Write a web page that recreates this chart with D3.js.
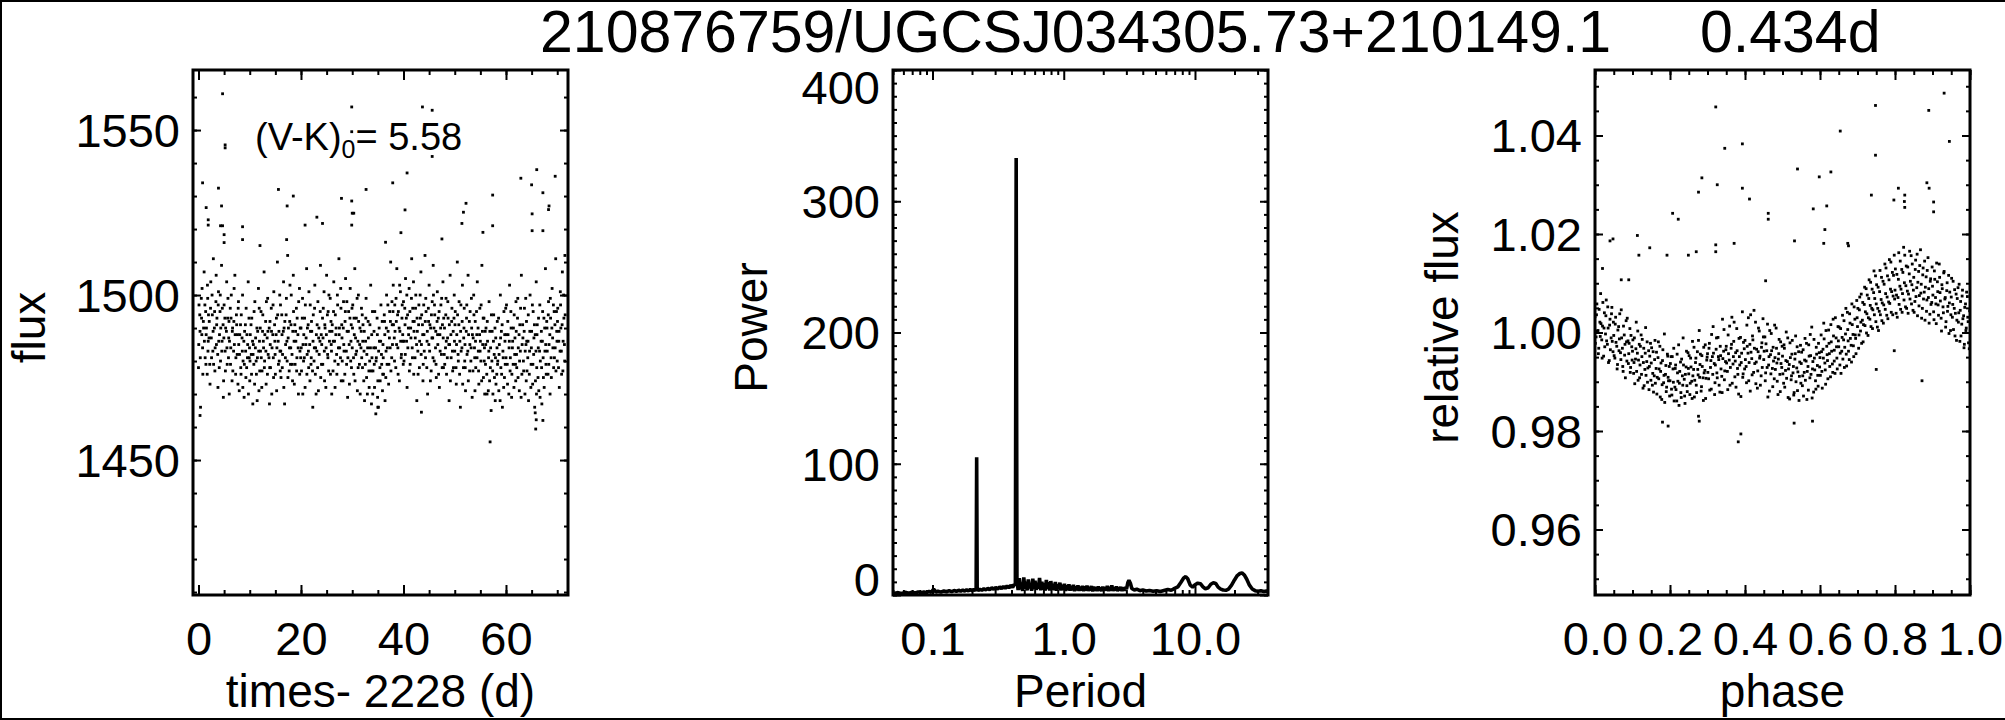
<!DOCTYPE html>
<html><head><meta charset="utf-8">
<script src="https://cdn.jsdelivr.net/npm/d3@7"></script>
<style>
html,body{margin:0;padding:0;background:#fff;}
svg{display:block;}
text{font-family:"Liberation Sans",Arial,Helvetica,sans-serif;fill:#000;}
</style></head><body>
<svg id="chart" width="2005" height="720"></svg>
<script>
// ---------------- DATA ----------------
const titleMain = "210876759/UGCSJ034305.73+210149.1";
const titlePeriod = "0.434d";
const colorIndexLabel = "(V-K)";
const colorIndexSub = "0";
const colorIndexValue = "= 5.58";

// light curve: [time - 2228 (d), flux]
const lcPoints = [
[0.0,1478],[0.1,1497],[0.3,1489],[0.4,1466],[0.6,1493],[0.7,1502],[0.8,1484],[1.0,1490],[1.1,1507],[1.3,1481],[1.4,1495],[1.5,1488],[1.7,1476],[1.8,1499],[1.9,1486],
[2.1,1492],[2.2,1479],[2.4,1504],[2.5,1487],[2.7,1494],[2.8,1483],[2.9,1511],[3.1,1490],[3.2,1477],[3.4,1498],[3.5,1485],[3.6,1493],[3.8,1472],[3.9,1501],
[4.1,1488],[4.2,1495],[4.3,1480],[4.5,1509],[4.6,1486],[4.8,1491],[4.9,1474],[5.0,1497],[5.2,1483],[5.3,1490],[5.5,1504],[5.6,1479],[5.7,1493],[5.9,1487],
[6.0,1470],[6.2,1496],[6.3,1484],[6.4,1500],[6.6,1489],[6.7,1477],[6.9,1492],[7.0,1485],[7.1,1506],[7.3,1481],[7.4,1494],[7.6,1488],[7.7,1473],[7.8,1498],
[8.0,1482],[8.2,1491],[8.3,1476],[8.5,1487],[8.6,1500],[8.7,1480],[8.9,1469],[9.0,1489],[9.2,1483],[9.3,1496],[9.4,1478],[9.6,1485],[9.7,1504],[9.9,1481],
[10.0,1474],[10.1,1488],[10.3,1482],[10.4,1493],[10.6,1467],[10.7,1485],[10.8,1479],[11.0,1498],[11.1,1484],[11.3,1476],[11.4,1490],[11.5,1481],[11.7,1502],[11.8,1471],[11.9,1486],
[12.1,1483],[12.2,1495],[12.4,1477],[12.5,1489],[12.7,1484],[12.8,1507],[12.9,1480],[13.1,1492],[13.2,1473],[13.4,1487],[13.5,1499],[13.6,1482],[13.8,1490],[13.9,1478],
[14.0,1485],[14.2,1496],[14.3,1470],[14.5,1488],[14.6,1481],[14.7,1501],[14.9,1486],[15.0,1476],[15.2,1493],[15.3,1484],[15.4,1510],[15.6,1479],[15.7,1489],[15.9,1483],
[16.0,1497],[16.1,1475],[16.3,1488],[16.4,1482],[16.6,1504],[16.7,1490],[16.8,1467],[17.0,1485],[17.1,1494],[17.3,1480],[17.4,1512],[17.5,1487],[17.7,1477],[17.8,1492],
[18.0,1484],[18.1,1500],[18.3,1479],[18.4,1489],[18.5,1506],[18.7,1473],[18.8,1491],[19.0,1486],[19.1,1496],[19.2,1481],[19.4,1488],[19.5,1470],[19.7,1502],[19.8,1483],
[20.0,1490],[20.1,1477],[20.3,1499],[20.4,1485],[20.5,1480],[20.7,1493],[20.8,1472],[21.0,1487],[21.1,1508],[21.2,1482],[21.4,1491],[21.5,1478],[21.7,1485],[21.8,1497],
[22.0,1481],[22.1,1489],[22.3,1466],[22.4,1494],[22.6,1484],[22.7,1503],[22.8,1476],[23.0,1488],[23.1,1483],[23.3,1498],[23.4,1471],[23.5,1490],[23.7,1486],[23.8,1509],
[24.0,1479],[24.2,1493],[24.3,1487],[24.5,1501],[24.6,1474],[24.7,1490],[24.9,1484],[25.0,1506],[25.2,1482],[25.3,1495],[25.4,1477],[25.6,1489],[25.7,1499],[25.9,1485],
[26.0,1470],[26.1,1491],[26.3,1486],[26.4,1504],[26.6,1480],[26.7,1494],[26.8,1488],[27.0,1476],[27.1,1500],[27.3,1484],[27.4,1511],[27.5,1490],[27.7,1481],[27.8,1496],
[28.0,1487],[28.2,1474],[28.3,1498],[28.4,1483],[28.6,1492],[28.7,1505],[28.9,1479],[29.0,1489],[29.1,1469],[29.3,1495],[29.4,1485],[29.6,1502],[29.7,1480],[29.8,1491],
[30.0,1484],[30.1,1497],[30.3,1476],[30.4,1488],[30.5,1508],[30.7,1482],[30.8,1493],[31.0,1471],[31.1,1486],[31.2,1500],[31.4,1479],[31.5,1490],[31.7,1484],[31.8,1496],
[32.0,1478],[32.1,1491],[32.3,1483],[32.4,1468],[32.6,1486],[32.7,1499],[32.8,1475],[33.0,1484],[33.1,1492],[33.3,1472],[33.4,1480],[33.6,1503],[33.7,1477],[33.8,1488],
[34.0,1470],[34.2,1484],[34.3,1479],[34.4,1495],[34.6,1464],[34.7,1481],[34.9,1488],[35.0,1474],[35.1,1466],[35.3,1486],[35.4,1478],[35.6,1497],[35.7,1482],[35.9,1471],
[36.0,1485],[36.1,1476],[36.3,1492],[36.4,1468],[36.6,1483],[36.7,1500],[36.8,1479],[37.0,1489],[37.1,1473],[37.3,1495],[37.4,1484],[37.5,1510],[37.7,1481],[37.8,1491],
[38.0,1503],[38.2,1487],[38.3,1497],[38.5,1478],[38.6,1492],[38.7,1508],[38.9,1484],[39.0,1495],[39.2,1474],[39.3,1489],[39.4,1501],[39.6,1482],[39.7,1493],[39.9,1486],
[40.0,1498],[40.1,1480],[40.3,1491],[40.4,1505],[40.6,1486],[40.7,1472],[40.8,1494],[41.0,1488],[41.1,1502],[41.3,1479],[41.4,1490],[41.6,1511],[41.7,1484],[41.8,1496],
[42.0,1476],[42.1,1492],[42.3,1487],[42.4,1500],[42.6,1468],[42.7,1489],[42.8,1483],[43.0,1497],[43.1,1478],[43.3,1493],[43.4,1507],[43.5,1485],[43.7,1491],[43.8,1474],
[44.0,1488],[44.2,1512],[44.3,1481],[44.4,1495],[44.6,1486],[44.7,1470],[44.9,1492],[45.0,1503],[45.1,1483],[45.3,1490],[45.4,1477],[45.6,1498],[45.7,1487],[45.8,1509],
[46.0,1480],[46.1,1494],[46.3,1489],[46.4,1475],[46.6,1501],[46.7,1485],[46.8,1493],[47.0,1472],[47.1,1488],[47.3,1497],[47.4,1482],[47.6,1491],[47.7,1504],[47.8,1478],
[48.0,1490],[48.2,1484],[48.3,1499],[48.4,1476],[48.6,1487],[48.7,1493],[48.9,1468],[49.0,1485],[49.1,1506],[49.3,1481],[49.4,1492],[49.6,1477],[49.7,1489],[49.9,1500],
[50.0,1483],[50.1,1495],[50.3,1473],[50.4,1488],[50.5,1510],[50.7,1480],[50.8,1491],[51.0,1486],[51.1,1466],[51.2,1497],[51.4,1484],[51.5,1503],[51.7,1478],[51.8,1490],
[52.0,1485],[52.1,1471],[52.3,1493],[52.4,1482],[52.6,1506],[52.7,1488],[52.9,1477],[53.0,1495],[53.2,1484],[53.3,1490],[53.4,1469],[53.6,1487],[53.7,1500],[53.9,1481],
[54.0,1492],[54.1,1478],[54.3,1488],[54.4,1504],[54.6,1483],[54.7,1473],[54.9,1496],[55.0,1486],[55.1,1480],[55.3,1509],[55.4,1489],[55.6,1475],[55.7,1493],[55.8,1484],
[56.0,1479],[56.1,1490],[56.3,1470],[56.4,1486],[56.6,1481],[56.7,1498],[56.8,1474],[57.0,1484],[57.1,1465],[57.3,1489],[57.4,1477],[57.6,1494],[57.7,1482],[57.9,1468],
[58.0,1487],[58.2,1476],[58.3,1492],[58.4,1480],[58.6,1471],[58.7,1485],[58.9,1500],[59.0,1478],[59.1,1489],[59.3,1466],[59.4,1483],[59.6,1495],[59.7,1475],[59.8,1486],
[60.0,1481],[60.1,1497],[60.3,1473],[60.4,1488],[60.6,1484],[60.7,1503],[60.8,1477],[61.0,1490],[61.1,1469],[61.3,1486],[61.4,1479],[61.6,1494],[61.7,1482],[61.9,1474],
[62.0,1489],[62.1,1478],[62.3,1499],[62.4,1484],[62.6,1471],[62.7,1491],[62.8,1483],[63.0,1506],[63.1,1476],[63.3,1487],[63.4,1480],[63.6,1496],[63.7,1470],[63.9,1485],
[64.0,1492],[64.1,1477],[64.3,1486],[64.4,1468],[64.6,1483],[64.7,1500],[64.9,1479],[65.0,1489],[65.2,1473],[65.3,1495],[65.4,1482],[65.6,1466],[65.7,1488],[65.9,1504],
[66.0,1478],[66.1,1491],[66.3,1484],[66.4,1471],[66.6,1497],[66.7,1480],[66.9,1489],[67.0,1467],[67.1,1486],[67.3,1475],[67.4,1493],[67.6,1483],[67.7,1508],[67.8,1479],
[68.0,1490],[68.2,1476],[68.3,1498],[68.4,1485],[68.6,1470],[68.7,1493],[68.8,1481],[69.0,1502],[69.1,1487],[69.3,1478],[69.4,1495],[69.6,1484],[69.7,1511],[69.9,1489],
[70.0,1480],[70.1,1496],[70.3,1486],[70.4,1472],[70.6,1501],[70.7,1490],[70.8,1483],[71.0,1507],[71.1,1477],[71.3,1493],[71.4,1485],[71.5,1512]
];
const lcPointsB = [
[0.05,1485],[0.25,1494],[0.35,1481],[0.55,1499],[0.65,1488],[0.85,1476],[0.95,1492],[1.15,1486],[1.25,1497],[1.45,1479],[1.55,1490],[1.75,1503],[1.85,1483],[1.95,1494],
[2.05,1487],[2.25,1473],[2.35,1496],[2.55,1481],[2.65,1500],[2.85,1489],[2.95,1479],[3.15,1495],[3.25,1484],[3.45,1506],[3.55,1491],[3.75,1482],[3.85,1497],[3.95,1486],
[4.05,1478],[4.25,1500],[4.35,1490],[4.55,1483],[4.65,1496],[4.85,1469],[4.95,1487],[5.15,1493],[5.25,1477],[5.45,1489],[5.55,1484],[5.75,1499],[5.85,1481],[5.95,1492],
[6.05,1486],[6.25,1479],[6.35,1493],[6.55,1474],[6.65,1490],[6.85,1483],[6.95,1502],[7.15,1488],[7.25,1476],[7.45,1491],[7.55,1482],[7.75,1496],[7.85,1485],[7.95,1471],
[8.05,1488],[8.25,1478],[8.35,1494],[8.55,1483],[8.65,1472],[8.85,1486],[8.95,1479],[9.15,1491],[9.25,1475],[9.45,1488],[9.55,1481],[9.75,1470],[9.85,1493],[9.95,1484],
[10.05,1480],[10.25,1491],[10.35,1476],[10.55,1486],[10.65,1482],[10.85,1495],[10.95,1473],[11.15,1487],[11.25,1480],[11.45,1468],[11.55,1489],[11.75,1483],[11.85,1496],[11.95,1477],
[12.05,1490],[12.25,1481],[12.35,1472],[12.55,1494],[12.65,1486],[12.85,1478],[12.95,1488],[13.15,1483],[13.25,1498],[13.45,1476],[13.55,1489],[13.75,1481],[13.85,1467],[13.95,1492],
[14.05,1478],[14.25,1489],[14.35,1484],[14.55,1497],[14.65,1475],[14.85,1491],[14.95,1482],[15.15,1488],[15.25,1471],[15.45,1494],[15.55,1486],[15.75,1480],[15.85,1500],[15.95,1477],
[16.05,1483],[16.25,1494],[16.35,1478],[16.55,1489],[16.65,1472],[16.85,1492],[16.95,1481],[17.15,1499],[17.25,1486],[17.45,1475],[17.55,1490],[17.75,1484],[17.85,1503],[17.95,1479],
[18.05,1491],[18.25,1482],[18.35,1474],[18.55,1495],[18.65,1486],[18.85,1479],[18.95,1489],[19.15,1477],[19.25,1493],[19.45,1484],[19.55,1498],[19.75,1476],[19.85,1490],[19.95,1481],
[20.05,1484],[20.25,1493],[20.35,1470],[20.55,1488],[20.65,1481],[20.85,1497],[20.95,1485],[21.15,1476],[21.25,1490],[21.45,1483],[21.55,1501],[21.75,1474],[21.85,1489],[21.95,1479],
[22.05,1492],[22.25,1477],[22.35,1486],[22.55,1480],[22.65,1496],[22.85,1484],[22.95,1470],[23.15,1491],[23.25,1478],[23.45,1487],[23.55,1482],[23.75,1495],[23.85,1475],[23.95,1488],
[24.05,1485],[24.25,1479],[24.35,1496],[24.55,1483],[24.65,1491],[24.85,1472],[24.95,1488],[25.15,1494],[25.25,1481],[25.45,1500],[25.55,1486],[25.75,1476],[25.85,1492],[25.95,1483],
[26.05,1489],[26.25,1477],[26.35,1495],[26.55,1486],[26.65,1472],[26.85,1490],[26.95,1482],[27.15,1497],[27.25,1479],[27.45,1488],[27.55,1484],[27.75,1502],[27.85,1474],[27.95,1491],
[28.05,1480],[28.25,1490],[28.35,1485],[28.55,1476],[28.65,1495],[28.85,1483],[28.95,1498],[29.15,1481],[29.25,1489],[29.45,1473],[29.55,1493],[29.75,1486],[29.85,1478],[29.95,1496],
[30.05,1490],[30.25,1481],[30.35,1493],[30.55,1474],[30.65,1487],[30.85,1483],[30.95,1499],[31.15,1478],[31.25,1492],[31.45,1485],[31.55,1470],[31.75,1489],[31.85,1481],[31.95,1494],
[32.05,1486],[32.25,1474],[32.35,1489],[32.55,1479],[32.65,1493],[32.85,1482],[32.95,1470],[33.15,1487],[33.25,1477],[33.45,1491],[33.55,1484],[33.75,1467],[33.85,1481],[33.95,1495],
[34.05,1477],[34.25,1489],[34.35,1472],[34.55,1484],[34.65,1480],[34.85,1493],[34.95,1469],[35.15,1483],[35.25,1490],[35.45,1474],[35.55,1486],[35.75,1479],[35.85,1492],[35.95,1476],
[36.05,1481],[36.25,1494],[36.35,1488],[36.55,1475],[36.65,1490],[36.85,1484],[36.95,1497],[37.15,1479],[37.25,1487],[37.45,1492],[37.55,1477],[37.75,1498],[37.85,1485],[37.95,1495],
[38.05,1491],[38.25,1480],[38.35,1489],[38.55,1499],[38.65,1485],[38.85,1494],[38.95,1476],[39.15,1490],[39.25,1503],[39.45,1486],[39.55,1481],[39.75,1497],[39.85,1488],[39.95,1479],
[40.05,1486],[40.25,1496],[40.35,1482],[40.55,1493],[40.65,1500],[40.85,1484],[40.95,1490],[41.15,1477],[41.25,1495],[41.45,1487],[41.55,1499],[41.75,1481],[41.85,1492],[41.95,1504],
[42.05,1489],[42.25,1481],[42.35,1496],[42.55,1485],[42.65,1493],[42.85,1476],[42.95,1491],[43.15,1486],[43.25,1500],[43.45,1482],[43.55,1494],[43.75,1488],[43.85,1479],[43.95,1497],
[44.05,1483],[44.25,1492],[44.35,1499],[44.55,1478],[44.65,1489],[44.85,1496],[44.95,1485],[45.15,1491],[45.25,1474],[45.45,1494],[45.55,1487],[45.75,1481],[45.85,1500],[45.95,1490],
[46.05,1497],[46.25,1484],[46.35,1479],[46.55,1492],[46.65,1488],[46.85,1476],[46.95,1495],[47.15,1483],[47.25,1490],[47.45,1499],[47.55,1478],[47.75,1487],[47.85,1493],[47.95,1482],
[48.05,1479],[48.25,1494],[48.35,1486],[48.55,1481],[48.65,1498],[48.85,1485],[48.95,1491],[49.15,1474],[49.25,1488],[49.45,1496],[49.55,1483],[49.75,1478],[49.85,1493],[49.95,1486],
[50.05,1491],[50.25,1478],[50.35,1485],[50.55,1494],[50.65,1482],[50.85,1498],[50.95,1476],[51.15,1489],[51.25,1483],[51.45,1492],[51.55,1473],[51.75,1487],[51.85,1496],[51.95,1480],
[52.05,1478],[52.25,1489],[52.35,1497],[52.55,1483],[52.65,1474],[52.85,1492],[52.95,1485],[53.15,1480],[53.25,1499],[53.45,1488],[53.55,1477],[53.75,1494],[53.85,1484],[53.95,1471],
[54.05,1486],[54.25,1495],[54.35,1481],[54.55,1490],[54.65,1477],[54.85,1488],[54.95,1483],[55.15,1497],[55.25,1474],[55.45,1485],[55.55,1493],[55.75,1480],[55.85,1470],[55.95,1489],
[56.05,1485],[56.25,1476],[56.35,1492],[56.55,1471],[56.65,1483],[56.85,1489],[56.95,1478],[57.15,1494],[57.25,1480],[57.45,1470],[57.55,1486],[57.75,1475],[57.85,1490],[57.95,1481],
[58.05,1473],[58.25,1484],[58.35,1479],[58.55,1493],[58.65,1482],[58.85,1468],[58.95,1487],[59.15,1476],[59.25,1491],[59.45,1481],[59.55,1472],[59.75,1488],[59.85,1479],[59.95,1496],
[60.05,1488],[60.25,1479],[60.35,1492],[60.55,1470],[60.65,1486],[60.85,1481],[60.95,1495],[61.15,1476],[61.25,1484],[61.45,1490],[61.55,1472],[61.75,1487],[61.85,1479],[61.95,1498],
[62.05,1482],[62.25,1493],[62.35,1475],[62.55,1488],[62.65,1480],[62.85,1496],[62.95,1469],[63.15,1485],[63.25,1491],[63.45,1477],[63.55,1489],[63.75,1483],[63.85,1499],[63.95,1474],
[64.05,1486],[64.25,1481],[64.35,1494],[64.55,1476],[64.65,1489],[64.85,1472],[64.95,1484],[65.15,1497],[65.25,1479],[65.45,1487],[65.55,1491],[65.75,1474],[65.85,1483],[65.95,1470],
[66.05,1488],[66.25,1475],[66.35,1493],[66.55,1483],[66.65,1469],[66.85,1486],[66.95,1478],[67.15,1495],[67.25,1481],[67.45,1472],[67.55,1490],[67.75,1485],[67.85,1476],[67.95,1492],
[68.05,1483],[68.25,1494],[68.35,1479],[68.55,1488],[68.65,1499],[68.85,1475],[68.95,1490],[69.15,1484],[69.25,1497],[69.45,1481],[69.55,1491],[69.75,1477],[69.85,1495],[69.95,1486],
[70.05,1492],[70.25,1478],[70.35,1489],[70.55,1483],[70.65,1497],[70.85,1476],[70.95,1491],[71.15,1486],[71.25,1500],[71.45,1480],[71.55,1494]
];
// isolated points
const lcOutliers = [
[4.7,1561],[5.2,1545.5],[5.2,1544.6],[29.9,1557],[29.9,1549.5],[43.7,1557],[45.6,1556],[45.6,1542],
[0.8,1534],[3.9,1532.4],[15.6,1532],[18.5,1530],[32.7,1532],[37.9,1534],[40.7,1537],[66.0,1538],
[62.9,1535.4],[69.6,1536],[65.0,1533.4],[67.2,1531],[57.4,1530.3],[1.5,1526.5],[4.5,1527],[17.3,1527],
[27.9,1529.3],[29.9,1528.5],[40.3,1525.8],[52.2,1527.8],[68.4,1527],[68.3,1525.9],[1.9,1522.8],[1.9,1521.2],
[4.3,1521],[4.7,1521],[8.6,1520.7],[20.8,1521.2],[23.1,1523.6],[24.2,1521.7],[30.0,1524.8],[30.3,1524.8],
[29.9,1521.2],[51.4,1521.7],[51.7,1525.1],[57.4,1521],[65.1,1524.6],[55.5,1519],[65.1,1519.5],[67.2,1519.5],
[8.6,1516.8],[17.2,1516.8],[39.5,1518.9],[5.0,1518.3],[5.0,1515.9],[12.0,1515],[36.5,1516],[47.5,1517],
[56.9,1455.5],[65.8,1459.4],[65.9,1462.2],[65.7,1464.3],[67.2,1462],[0.3,1463.5],[35.0,1466],[43.5,1464.5]
];

// periodogram: period (d) and power
const pgPeriod = [0.050,0.054,0.058,0.062,0.066,0.070,0.074,0.078,0.082,0.086,0.090,0.094,0.098,0.102,0.106,0.110,0.116,0.122,0.128,0.134,0.140,0.146,0.152,0.158,0.164,0.170,0.176,0.182,0.188,0.194,0.200,0.206,0.212,0.215,0.217,0.219,0.223,0.230,0.238,0.246,0.255,0.264,0.273,0.283,0.293,0.303,0.314,0.325,0.336,0.347,0.358,0.370,0.382,0.395,0.408,0.420,0.428,0.434,
0.440,0.449,0.458,0.467,0.476,0.486,0.496,0.506,0.516,0.526,0.537,0.547,0.558,0.569,0.581,0.592,0.604,0.616,0.629,0.641,0.654,0.667,0.681,0.694,0.708,0.722,0.737,0.751,0.766,0.782,0.797,0.813,0.830,0.846,0.863,0.881,0.898,0.916,0.935,0.953,0.972,0.992,1.012,1.032,1.053,1.074,1.095,1.117,1.139,1.162,1.185,1.209,1.233,1.258,1.283,1.309,1.335,1.362,1.389,1.417,1.445,1.474,1.503,1.533,1.564,1.595,1.627,1.660,1.693,1.727,1.761,1.797,1.833,1.869,1.907,1.945,1.984,2.023,2.064,2.105,2.147,2.190,2.234,2.279,2.324,2.371,2.418,2.467,2.516,2.566,2.618,2.670,2.723,2.778,2.834,2.890,2.948,3.007,
3.08,3.14,3.22,3.30,3.45,3.60,3.80,4.00,4.25,4.50,4.80,5.10,5.45,5.80,6.20,6.60,7.00,7.40,7.80,8.20,8.50,8.80,9.20,9.60,10.0,10.5,11.0,11.5,12.0,12.6,13.2,13.8,14.4,15.0,15.7,16.4,17.2,18.0,19.0,20.0,21.0,22.0,22.8,23.8,24.8,26.0,27.3,28.7,30.2,31.8,33.5,35.0,36.0];
const pgPower  = [1.0,1.8,1.2,2.0,1.4,2.2,1.5,2.4,1.7,2.3,1.9,2.7,2.1,4.5,2.3,2.9,2.2,3.1,2.5,3.3,2.6,3.4,2.8,3.6,2.9,3.8,3.0,3.9,3.2,4.1,3.3,4.2,3.6,4.5,105,4.6,3.5,4.4,3.6,4.8,3.9,5.1,4.0,5.5,4.3,5.8,4.6,6.2,4.8,6.6,5.1,7.0,5.4,7.5,5.8,8.2,7.0,333,
11.5,3.8,12.8,4.2,9.6,3.1,13.4,4.6,10.2,3.5,11.9,5.0,8.7,3.2,12.5,4.4,10.8,3.9,9.3,4.8,13.0,3.6,10.1,4.1,8.9,3.3,11.4,4.7,9.8,3.4,10.6,4.0,8.5,3.7,9.9,3.2,8.1,4.3,9.4,3.5,7.8,3.9,8.6,3.1,7.4,3.8,8.2,3.3,6.9,3.6,7.7,3.0,6.6,3.7,7.3,3.2,6.2,3.5,7.0,2.9,6.5,3.4,7.2,3.1,6.0,3.6,6.8,2.8,6.3,3.3,5.9,3.0,6.6,3.4,5.7,2.9,6.4,3.2,5.8,3.5,6.9,3.0,6.1,3.3,7.4,3.1,5.6,3.6,6.5,2.9,5.9,3.4,6.2,3.0,5.7,3.3,6.0,4.5,
9.5,11.2,9.0,5.0,3.8,4.4,3.3,3.9,3.0,3.5,2.8,3.3,2.6,3.4,4.2,3.6,5.0,6.2,9.5,13.0,14.0,12.4,7.5,6.0,7.8,9.0,8.6,6.2,4.8,5.5,8.2,9.3,8.8,6.0,4.5,3.8,3.6,4.5,7.5,11.5,14.8,16.4,16.8,15.2,12.0,7.5,4.6,3.3,2.8,3.2,2.7,3.0,2.9];

// phased light curve: [phase, relative flux]
const phPoints = [
[0.000,1.0032],[0.003,0.9991],[0.005,1.0058],[0.008,1.0004],[0.010,0.9968],[0.013,1.0021],[0.015,1.0079],[0.018,0.9985],[0.020,1.0013],[0.023,0.9952],[0.025,1.0040],[0.028,0.9997],[0.030,1.0066],[0.033,0.9976],[0.035,1.0009],[0.038,0.9943],[0.040,1.0027],[0.043,0.9989],[0.045,1.0051],[0.048,0.9961],
[0.050,0.9994],[0.053,0.9948],[0.055,1.0031],[0.058,0.9972],[0.060,0.9935],[0.063,1.0012],[0.065,0.9987],[0.068,0.9959],[0.070,1.0046],[0.073,0.9968],[0.075,0.9921],[0.078,0.9995],[0.080,0.9976],[0.083,1.0024],[0.085,0.9942],[0.088,0.9983],[0.090,0.9957],[0.093,1.0008],[0.095,0.9929],[0.098,0.9971],
[0.100,0.9962],[0.103,0.9917],[0.105,0.9989],[0.108,0.9946],[0.110,1.0021],[0.113,0.9958],[0.115,0.9903],[0.118,0.9976],[0.120,0.9934],[0.123,0.9995],[0.125,0.9951],[0.128,0.9887],[0.130,0.9968],[0.133,0.9925],[0.135,1.0010],[0.138,0.9941],[0.140,0.9899],[0.143,0.9963],[0.145,0.9931],[0.148,0.9978],
[0.150,0.9938],[0.153,0.9893],[0.155,0.9961],[0.158,0.9912],[0.160,0.9984],[0.163,0.9927],[0.165,0.9875],[0.168,0.9949],[0.170,0.9906],[0.173,0.9972],[0.175,0.9921],[0.178,0.9864],[0.180,0.9943],[0.183,0.9898],[0.185,0.9997],[0.188,0.9915],[0.190,0.9880],[0.193,0.9956],[0.195,0.9909],[0.198,0.9931],
[0.200,0.9902],[0.203,0.9951],[0.205,0.9873],[0.208,0.9926],[0.210,0.9968],[0.213,0.9889],[0.215,0.9934],[0.218,0.9861],[0.220,0.9918],[0.223,0.9975],[0.225,0.9897],[0.228,0.9940],[0.230,0.9868],[0.233,0.9912],[0.235,0.9989],[0.238,0.9905],[0.240,0.9856],[0.243,0.9930],[0.245,0.9892],[0.248,0.9959],
[0.250,0.9916],[0.253,0.9874],[0.255,0.9948],[0.258,0.9901],[0.260,0.9982],[0.263,0.9925],[0.265,0.9869],[0.268,0.9939],[0.270,0.9893],[0.273,0.9961],[0.275,0.9914],[0.278,1.0004],[0.280,0.9935],[0.283,0.9881],[0.285,0.9953],[0.288,0.9908],[0.290,0.9970],[0.293,0.9923],[0.295,0.9866],[0.298,0.9944],
[0.300,0.9957],[0.303,0.9906],[0.305,0.9978],[0.308,0.9929],[0.310,0.9885],[0.313,0.9951],[0.315,1.0012],[0.318,0.9937],[0.320,0.9898],[0.323,0.9966],[0.325,0.9918],[0.328,0.9990],[0.330,0.9945],[0.333,0.9879],[0.335,0.9953],[0.338,0.9911],[0.340,1.0027],[0.343,0.9962],[0.345,0.9904],[0.348,0.9941],
[0.350,0.9972],[0.353,0.9921],[0.355,0.9995],[0.358,0.9944],[0.360,0.9893],[0.363,0.9968],[0.365,1.0031],[0.368,0.9936],[0.370,0.9982],[0.373,0.9910],[0.375,0.9959],[0.378,1.0008],[0.380,0.9927],[0.383,0.9875],[0.385,0.9951],[0.388,0.9990],[0.390,0.9939],[0.393,1.0042],[0.395,0.9916],[0.398,0.9967],
[0.400,0.9984],[0.403,0.9931],[0.405,1.0015],[0.408,0.9958],[0.410,0.9902],[0.413,0.9976],[0.415,1.0036],[0.418,0.9947],[0.420,0.9993],[0.423,0.9919],[0.425,0.9968],[0.428,1.0021],[0.430,0.9940],[0.433,0.9887],[0.435,0.9961],[0.438,1.0003],[0.440,0.9952],[0.443,0.9912],[0.445,0.9979],[0.448,1.0028],
[0.450,0.9945],[0.453,0.9991],[0.455,0.9918],[0.458,0.9963],[0.460,1.0017],[0.463,0.9934],[0.465,0.9881],[0.468,0.9955],[0.470,0.9998],[0.473,0.9927],[0.475,0.9970],[0.478,0.9906],[0.480,0.9949],[0.483,1.0009],[0.485,0.9938],[0.488,0.9874],[0.490,0.9957],[0.493,0.9915],[0.495,0.9981],[0.498,0.9929],
[0.500,0.9952],[0.503,0.9897],[0.505,0.9968],[0.508,0.9923],[0.510,1.0001],[0.513,0.9941],[0.515,0.9868],[0.518,0.9935],[0.520,0.9979],[0.523,0.9904],[0.525,0.9956],[0.528,0.9918],[0.530,0.9873],[0.533,0.9946],[0.535,0.9993],[0.538,0.9928],[0.540,0.9882],[0.543,0.9961],[0.545,0.9911],[0.548,0.9974],
[0.550,0.9937],[0.553,0.9892],[0.555,0.9965],[0.558,0.9919],[0.560,0.9988],[0.563,0.9942],[0.565,0.9864],[0.568,0.9931],[0.570,0.9975],[0.573,0.9908],[0.575,0.9953],[0.578,1.0011],[0.580,0.9926],[0.583,0.9879],[0.585,0.9948],[0.588,0.9902],[0.590,0.9970],[0.593,0.9933],[0.595,0.9891],[0.598,0.9959],
[0.600,0.9949],[0.603,0.9995],[0.605,0.9921],[0.608,0.9966],[0.610,1.0019],[0.613,0.9938],[0.615,0.9895],[0.618,0.9972],[0.620,0.9943],[0.623,1.0005],[0.625,0.9957],[0.628,0.9910],[0.630,0.9981],[0.633,0.9936],[0.635,1.0027],[0.638,0.9964],[0.640,0.9917],[0.643,0.9989],[0.645,0.9948],[0.648,1.0012],
[0.650,0.9971],[0.653,0.9934],[0.655,1.0008],[0.658,0.9962],[0.660,1.0035],[0.663,0.9985],[0.665,0.9929],[0.668,0.9997],[0.670,0.9956],[0.673,1.0041],[0.675,0.9983],[0.678,0.9945],[0.680,1.0019],[0.683,0.9974],[0.685,1.0058],[0.688,0.9996],[0.690,0.9951],[0.693,1.0027],[0.695,0.9988],[0.698,1.0065],
[0.700,1.0012],[0.703,0.9968],[0.705,1.0046],[0.708,1.0003],[0.710,1.0078],[0.713,1.0025],[0.715,0.9981],[0.718,1.0057],[0.720,1.0014],[0.723,1.0089],[0.725,1.0038],[0.728,0.9994],[0.730,1.0069],[0.733,1.0027],[0.735,1.0102],[0.738,1.0049],[0.740,1.0008],[0.743,1.0081],[0.745,1.0036],[0.748,1.0115],
[0.750,1.0058],[0.753,1.0011],[0.755,1.0092],[0.758,1.0043],[0.760,1.0126],[0.763,1.0067],[0.765,1.0024],[0.768,1.0104],[0.770,1.0056],[0.773,1.0139],[0.775,1.0079],[0.778,1.0035],[0.780,1.0115],[0.783,1.0062],[0.785,1.0148],[0.788,1.0088],[0.790,1.0041],[0.793,1.0122],[0.795,1.0074],[0.798,1.0157],
[0.800,1.0086],[0.803,1.0039],[0.805,1.0118],[0.808,1.0071],[0.810,1.0162],[0.813,1.0094],[0.815,1.0047],[0.818,1.0128],[0.820,1.0079],[0.823,1.0173],[0.825,1.0101],[0.828,1.0052],[0.830,1.0135],[0.833,1.0084],[0.835,1.0039],[0.838,1.0119],[0.840,1.0068],[0.843,1.0156],[0.845,1.0097],[0.848,1.0045],
[0.850,1.0112],[0.853,1.0063],[0.855,1.0147],[0.858,1.0091],[0.860,1.0034],[0.863,1.0124],[0.865,1.0075],[0.868,1.0168],[0.870,1.0098],[0.873,1.0049],[0.875,1.0131],[0.878,1.0082],[0.880,1.0025],[0.883,1.0113],[0.885,1.0066],[0.888,1.0152],[0.890,1.0089],[0.893,1.0037],[0.895,1.0109],[0.898,1.0061],
[0.900,1.0094],[0.903,1.0042],[0.905,1.0125],[0.908,1.0071],[0.910,1.0018],[0.913,1.0103],[0.915,1.0056],[0.918,1.0139],[0.920,1.0081],[0.923,1.0029],[0.925,1.0097],[0.928,1.0052],[0.930,1.0121],[0.933,1.0068],[0.935,1.0011],[0.938,1.0085],[0.940,1.0043],[0.943,1.0116],[0.945,1.0060],[0.948,1.0004],
[0.950,1.0072],[0.953,1.0031],[0.955,1.0104],[0.958,1.0049],[0.960,0.9993],[0.963,1.0078],[0.965,1.0025],[0.968,1.0091],[0.970,1.0040],[0.973,0.9982],[0.975,1.0063],[0.978,1.0017],[0.980,1.0086],[0.983,1.0034],[0.985,0.9976],[0.988,1.0058],[0.990,1.0009],[0.993,1.0073],[0.995,1.0022],[0.998,0.9967]
];
const phPointsB = [
[0.001,0.9978],[0.004,1.0036],[0.006,1.0003],[0.009,0.9957],[0.011,1.0047],[0.014,0.9992],[0.016,1.0018],[0.019,0.9948],[0.021,1.0061],[0.024,1.0009],[0.026,0.9971],[0.029,1.0034],[0.031,0.9983],[0.034,1.0052],[0.036,0.9939],[0.039,1.0015],[0.041,0.9965],[0.044,1.0038],[0.046,0.9982],[0.049,1.0021],
[0.051,0.9953],[0.054,1.0017],[0.056,0.9980],[0.059,0.9926],[0.061,1.0005],[0.064,0.9963],[0.066,1.0038],[0.069,0.9945],[0.071,0.9989],[0.074,0.9931],[0.076,1.0013],[0.079,0.9954],[0.081,0.9908],[0.084,0.9981],[0.086,1.0029],[0.089,0.9937],[0.091,0.9978],[0.094,0.9919],[0.096,0.9994],[0.099,0.9944],
[0.101,0.9985],[0.104,0.9939],[0.106,0.9896],[0.109,0.9967],[0.111,0.9921],[0.114,1.0003],[0.116,0.9944],[0.119,0.9908],[0.121,0.9972],[0.124,0.9915],[0.126,0.9986],[0.129,0.9939],[0.131,0.9892],[0.134,0.9958],[0.136,0.9913],[0.139,0.9981],[0.141,0.9928],[0.144,0.9884],[0.146,0.9952],[0.149,0.9903],
[0.151,0.9969],[0.154,0.9917],[0.156,0.9879],[0.159,0.9945],[0.161,0.9897],[0.164,0.9960],[0.166,0.9909],[0.169,0.9981],[0.171,0.9926],[0.174,0.9869],[0.176,0.9938],[0.179,0.9894],[0.181,0.9965],[0.184,0.9913],[0.186,0.9858],[0.189,0.9933],[0.191,0.9889],[0.194,0.9952],[0.196,0.9902],[0.199,0.9871],
[0.201,0.9937],[0.204,0.9885],[0.206,0.9951],[0.209,0.9899],[0.211,0.9861],[0.214,0.9927],[0.216,0.9884],[0.219,0.9956],[0.221,0.9901],[0.224,0.9852],[0.226,0.9921],[0.229,0.9878],[0.231,0.9946],[0.234,0.9893],[0.236,0.9934],[0.239,0.9871],[0.241,0.9915],[0.244,0.9962],[0.246,0.9880],[0.249,0.9927],
[0.251,0.9953],[0.254,0.9897],[0.256,0.9930],[0.259,0.9866],[0.261,0.9912],[0.264,0.9970],[0.266,0.9903],[0.269,0.9948],[0.271,0.9878],[0.274,0.9925],[0.276,0.9984],[0.279,0.9909],[0.281,0.9956],[0.284,0.9890],[0.286,0.9931],[0.289,0.9862],[0.291,0.9918],[0.294,0.9975],[0.296,0.9907],[0.299,0.9950],
[0.301,0.9919],[0.304,0.9968],[0.306,0.9883],[0.309,0.9943],[0.311,0.9996],[0.314,0.9915],[0.316,0.9958],[0.319,0.9874],[0.321,0.9934],[0.324,0.9989],[0.326,0.9908],[0.329,0.9951],[0.331,0.9893],[0.334,0.9972],[0.336,0.9926],[0.339,0.9878],[0.341,0.9947],[0.344,1.0006],[0.346,0.9922],[0.349,0.9965],
[0.351,0.9938],[0.354,0.9884],[0.356,0.9957],[0.359,1.0013],[0.361,0.9929],[0.364,0.9976],[0.366,0.9897],[0.369,0.9951],[0.371,1.0021],[0.374,0.9942],[0.376,0.9889],[0.379,0.9963],[0.381,0.9915],[0.384,0.9988],[0.386,0.9934],[0.389,0.9870],[0.391,0.9958],[0.394,0.9909],[0.396,0.9980],[0.399,0.9926],
[0.401,0.9945],[0.404,0.9898],[0.406,0.9972],[0.409,1.0030],[0.411,0.9939],[0.414,0.9881],[0.416,0.9960],[0.419,0.9914],[0.421,0.9985],[0.424,1.0045],[0.426,0.9937],[0.429,0.9896],[0.431,0.9966],[0.434,0.9922],[0.436,1.0009],[0.439,0.9948],[0.441,0.9893],[0.444,0.9970],[0.446,0.9929],[0.449,0.9991],
[0.451,0.9962],[0.454,0.9902],[0.456,0.9977],[0.459,0.9929],[0.461,0.9869],[0.464,0.9951],[0.466,1.0004],[0.469,0.9916],[0.471,0.9963],[0.474,0.9890],[0.476,0.9942],[0.479,1.0015],[0.481,0.9925],[0.484,0.9968],[0.486,0.9901],[0.489,0.9946],[0.491,0.9986],[0.494,0.9880],[0.496,0.9937],[0.499,0.9972],
[0.501,0.9916],[0.504,0.9975],[0.506,0.9889],[0.509,0.9943],[0.511,0.9907],[0.514,0.9989],[0.516,0.9926],[0.519,0.9865],[0.521,0.9949],[0.524,0.9912],[0.526,0.9984],[0.529,0.9931],[0.531,0.9878],[0.534,0.9957],[0.536,0.9900],[0.539,0.9971],[0.541,0.9920],[0.544,0.9862],[0.546,0.9940],[0.549,0.9897],
[0.551,0.9960],[0.554,0.9912],[0.556,0.9871],[0.559,0.9944],[0.561,0.9903],[0.564,0.9978],[0.566,0.9921],[0.569,0.9883],[0.571,0.9952],[0.574,0.9996],[0.576,0.9915],[0.579,0.9867],[0.581,0.9941],[0.584,0.9986],[0.586,0.9924],[0.589,0.9885],[0.591,0.9956],[0.594,0.9913],[0.596,0.9978],[0.599,0.9930],
[0.601,0.9913],[0.604,0.9961],[0.606,0.9887],[0.609,0.9948],[0.611,0.9987],[0.614,0.9924],[0.616,1.0004],[0.619,0.9955],[0.621,0.9906],[0.624,0.9978],[0.626,0.9931],[0.629,1.0016],[0.631,0.9962],[0.634,0.9919],[0.636,0.9993],[0.638,0.9942],[0.641,1.0030],[0.644,0.9971],[0.646,0.9926],[0.649,0.9983],
[0.651,1.0011],[0.654,0.9958],[0.656,0.9917],[0.659,0.9990],[0.661,0.9946],[0.664,1.0024],[0.666,0.9970],[0.669,1.0049],[0.671,0.9932],[0.674,1.0006],[0.676,0.9962],[0.679,1.0038],[0.681,0.9988],[0.684,0.9940],[0.686,1.0016],[0.689,0.9973],[0.691,1.0052],[0.694,0.9995],[0.696,0.9957],[0.699,1.0030],
[0.701,1.0049],[0.704,0.9995],[0.706,1.0072],[0.709,1.0021],[0.711,0.9978],[0.714,1.0061],[0.716,1.0016],[0.719,1.0092],[0.721,1.0042],[0.724,0.9999],[0.726,1.0076],[0.729,1.0030],[0.731,1.0107],[0.734,1.0055],[0.736,1.0012],[0.739,1.0088],[0.741,1.0046],[0.744,1.0125],[0.746,1.0069],[0.749,1.0022],
[0.751,1.0097],[0.754,1.0049],[0.756,1.0004],[0.759,1.0083],[0.761,1.0036],[0.764,1.0112],[0.766,1.0060],[0.769,1.0019],[0.771,1.0098],[0.774,1.0047],[0.776,1.0131],[0.779,1.0072],[0.781,1.0028],[0.784,1.0107],[0.786,1.0059],[0.789,1.0143],[0.791,1.0083],[0.794,1.0036],[0.796,1.0116],[0.799,1.0068],
[0.801,1.0129],[0.804,1.0076],[0.806,1.0031],[0.809,1.0108],[0.811,1.0057],[0.814,1.0145],[0.816,1.0088],[0.819,1.0041],[0.821,1.0122],[0.824,1.0066],[0.826,1.0157],[0.829,1.0095],[0.831,1.0049],[0.834,1.0133],[0.836,1.0078],[0.839,1.0165],[0.841,1.0104],[0.844,1.0058],[0.846,1.0139],[0.849,1.0086],
[0.851,1.0041],[0.854,1.0128],[0.856,1.0073],[0.859,1.0159],[0.861,1.0102],[0.864,1.0054],[0.866,1.0136],[0.869,1.0080],[0.871,1.0029],[0.874,1.0117],[0.876,1.0068],[0.879,1.0145],[0.881,1.0092],[0.884,1.0043],[0.886,1.0126],[0.889,1.0071],[0.891,1.0019],[0.894,1.0104],[0.896,1.0057],[0.899,1.0133],
[0.901,1.0076],[0.904,1.0026],[0.906,1.0108],[0.909,1.0058],[0.911,1.0141],[0.914,1.0083],[0.916,1.0035],[0.919,1.0112],[0.921,1.0064],[0.924,1.0003],[0.926,1.0089],[0.929,1.0040],[0.931,1.0124],[0.934,1.0071],[0.936,1.0022],[0.939,1.0101],[0.941,1.0053],[0.944,0.9998],[0.946,1.0082],[0.949,1.0036],
[0.951,1.0110],[0.954,1.0057],[0.956,1.0006],[0.959,1.0087],[0.961,1.0039],[0.964,0.9984],[0.966,1.0069],[0.969,1.0021],[0.971,1.0098],[0.974,1.0045],[0.976,0.9993],[0.979,1.0074],[0.981,1.0028],[0.984,0.9969],[0.986,1.0051],[0.989,1.0004],[0.991,1.0082],[0.994,1.0031],[0.996,0.9979],[0.999,1.0044]
];
const phOutliers = [
[0.322,1.0458],[0.346,1.0374],[0.393,1.0383],[0.326,1.0300],[0.285,1.0314],[0.276,1.0285],[0.393,1.0293],[0.412,1.0271],
[0.654,1.0409],[0.540,1.0332],[0.598,1.0316],[0.629,1.0326],[0.748,1.0461],[0.748,1.0360],[0.890,1.0451],[0.931,1.0486],
[0.945,1.0388],[0.737,1.0279],[0.809,1.0293],[0.826,1.0279],[0.885,1.0304],[0.891,1.0293],[0.797,1.0269],[0.825,1.0266],
[0.903,1.0265],[0.903,1.0245],[0.826,1.0254],[0.462,1.0242],[0.462,1.0230],[0.582,1.0251],[0.618,1.0257],[0.613,1.0209],
[0.207,1.0242],[0.222,1.0230],[0.270,1.0164],[0.249,1.0157],[0.322,1.0164],[0.322,1.0178],[0.371,1.0181],[0.532,1.0186],
[0.610,1.0181],[0.674,1.0181],[0.676,1.0176],[0.113,1.0197],[0.048,1.0190],[0.040,1.0186],[0.146,1.0172],[0.192,1.0157],
[0.117,1.0157],[0.090,1.0107],[0.070,1.0107],[0.798,0.9963],[0.872,0.9902],[0.750,0.9925],[0.382,0.9778],[0.389,0.9794],
[0.195,0.9810],[0.180,0.9818],[0.276,0.9830],[0.278,0.9820],[0.531,0.9816],[0.580,0.9820],[0.020,1.0130],[0.455,1.0105]
];

// axes: ticks and labels
const lcXDomain = [-1.07, 72.1], lcYDomain = [1409.1, 1568.2];
const lcXTicks = [0, 20, 40, 60], lcXTickLabels = ["0", "20", "40", "60"];
const lcXMinor = [0,5,10,15,20,25,30,35,40,45,50,55,60,65,70];
const lcYTicks = [1450, 1500, 1550], lcYTickLabels = ["1450", "1500", "1550"];
const lcYMinor = [1410,1420,1430,1440,1450,1460,1470,1480,1490,1500,1510,1520,1530,1540,1550,1560];

const pgXDomain = [0.05, 36], pgYDomain = [0, 400];
const pgXTicks = [0.1, 1, 10], pgXTickLabels = ["0.1", "1.0", "10.0"];
const pgXMinor = [0.05,0.06,0.07,0.08,0.09,0.2,0.3,0.4,0.5,0.6,0.7,0.8,0.9,2,3,4,5,6,7,8,9,20,30];
const pgYTicks = [0, 100, 200, 300, 400], pgYTickLabels = ["0", "100", "200", "300", "400"];
const pgYMinor = d3.range(0, 401, 10);

const phXDomain = [0, 1], phYDomain = [0.9467, 1.0533];
const phXTicks = [0, 0.2, 0.4, 0.6, 0.8, 1.0], phXTickLabels = ["0.0","0.2","0.4","0.6","0.8","1.0"];
const phXMinor = d3.range(0, 1.0001, 0.05);
const phYTicks = [0.96, 0.98, 1.00, 1.02, 1.04], phYTickLabels = ["0.96","0.98","1.00","1.02","1.04"];
const phYMinor = d3.range(0.95, 1.0501, 0.005);

const axisTitles = {lc:["times- 2228 (d)","flux"], pg:["Period","Power"], ph:["phase","relative flux"]};

// ---------------- DRAW ----------------
const svg = d3.select("#chart");
// page frame (left, top, bottom edges)
svg.append("path").attr("d","M2005,1 H1 V719 H2005").attr("fill","none")
   .attr("stroke","#000").attr("stroke-width",2);

const TOP = 70, BOTTOM = 595, W = 375, H = BOTTOM - TOP;
const FS = 47, FT = 46;

function panel(id, left, xScale, yScale, o) {
  const g = svg.append("g").attr("transform", `translate(${left},${TOP})`);
  g.append("clipPath").attr("id","clip-"+id).append("rect").attr("width",W).attr("height",H);
  const plot = g.append("g").attr("clip-path", `url(#clip-${id})`);

  const fmt = (ticks, labels) => d => labels[ticks.findIndex(t => Math.abs(t - d) < 1e-9)];
  const style = sel => {
    sel.select(".domain").remove();
    sel.attr("font-size", null).attr("font-family", null);
    sel.selectAll("line").attr("stroke","#000").attr("stroke-width",2);
    sel.selectAll("text").attr("font-size", FS).attr("fill","#000");
  };
  const bare = sel => { style(sel); sel.selectAll("text").remove(); };
  const XT = 10, XM = 5, YT = 8, YM = 4;
  g.append("g").attr("transform",`translate(0,${H})`)
   .call(d3.axisBottom(xScale).tickValues(o.xt).tickFormat(fmt(o.xt,o.xl)).tickSize(-XT).tickPadding(27)).call(style);
  g.append("g").attr("transform",`translate(0,${H})`)
   .call(d3.axisBottom(xScale).tickValues(o.xm).tickSize(-XM)).call(bare);
  g.append("g").call(d3.axisTop(xScale).tickValues(o.xt).tickSize(-XT)).call(bare);
  g.append("g").call(d3.axisTop(xScale).tickValues(o.xm).tickSize(-XM)).call(bare);
  const yLab = g.append("g").call(d3.axisLeft(yScale).tickValues(o.yt).tickFormat(fmt(o.yt,o.yl)).tickSize(-YT).tickPadding(13)).call(style);
  g.append("g").call(d3.axisLeft(yScale).tickValues(o.ym).tickSize(-YM)).call(bare);
  g.append("g").attr("transform",`translate(${W},0)`).call(d3.axisRight(yScale).tickValues(o.yt).tickSize(-YT)).call(bare);
  g.append("g").attr("transform",`translate(${W},0)`).call(d3.axisRight(yScale).tickValues(o.ym).tickSize(-YM)).call(bare);

  // labels that sit on the ends of the y range are kept inside the frame
  const [y0, y1] = yScale.domain();
  yLab.selectAll(".tick text").attr("dy", d => Math.abs(d - y0) < 1e-9 ? "0em" : Math.abs(d - y1) < 1e-9 ? "0.72em" : "0.35em");

  g.append("rect").attr("width",W).attr("height",H).attr("fill","none")
   .attr("stroke","#000").attr("stroke-width",3);

  g.append("text").attr("x", W/2).attr("y", H + 112).attr("text-anchor","middle")
   .attr("font-size", FT).text(o.xTitle);
  g.append("text").attr("transform", `translate(${o.yTitleX},${H/2 - 5}) rotate(-90)`)
   .attr("text-anchor","middle").attr("font-size", FT).text(o.yTitle);
  return plot;
}

function dots(plot, data, x, y) {
  plot.selectAll(null).data(data).enter().append("rect")
    .attr("x", d => x(d[0]) - 1.4).attr("y", d => y(d[1]) - 1.4)
    .attr("width", 2.8).attr("height", 2.8).attr("fill", "#000");
}

// light curve panel
const lcX = d3.scaleLinear().domain(lcXDomain).range([0, W]);
const lcY = d3.scaleLinear().domain(lcYDomain).range([H, 0]);
const lcPlot = panel("lc", 193, lcX, lcY, {xt:lcXTicks, xl:lcXTickLabels, xm:lcXMinor, yt:lcYTicks, yl:lcYTickLabels, ym:lcYMinor,
  xTitle: axisTitles.lc[0], yTitle: axisTitles.lc[1], yTitleX: -148});
dots(lcPlot, lcPoints.concat(lcPointsB, lcOutliers), lcX, lcY);

// annotation
const ann = svg.append("text").attr("x", 255).attr("y", 150).attr("font-size", 38);
ann.append("tspan").text(colorIndexLabel);
ann.append("tspan").attr("font-size", 25).attr("dy", 8).text(colorIndexSub);
ann.append("tspan").attr("dy", -8).text(colorIndexValue);

// periodogram panel
const pgX = d3.scaleLog().domain(pgXDomain).range([0, W]);
const pgY = d3.scaleLinear().domain(pgYDomain).range([H, 0]);
const pgPlot = panel("pg", 893, pgX, pgY, {xt:pgXTicks, xl:pgXTickLabels, xm:pgXMinor, yt:pgYTicks, yl:pgYTickLabels, ym:pgYMinor,
  xTitle: axisTitles.pg[0], yTitle: axisTitles.pg[1], yTitleX: -126});
const pgData = pgPeriod.map((p, i) => [p, pgPower[i]]);
pgPlot.append("path").datum(pgData)
  .attr("d", d3.line().x(d => pgX(d[0])).y(d => pgY(d[1])))
  .attr("fill","none").attr("stroke","#000").attr("stroke-width",3.6).attr("stroke-linejoin","bevel");

// phase panel
const phX = d3.scaleLinear().domain(phXDomain).range([0, W]);
const phY = d3.scaleLinear().domain(phYDomain).range([H, 0]);
const phPlot = panel("ph", 1595, phX, phY, {xt:phXTicks, xl:phXTickLabels, xm:phXMinor, yt:phYTicks, yl:phYTickLabels, ym:phYMinor,
  xTitle: axisTitles.ph[0], yTitle: axisTitles.ph[1], yTitleX: -137});
dots(phPlot, phPoints.concat(phPointsB, phOutliers), phX, phY);

// title
svg.append("text").attr("x", 540).attr("y", 52).attr("font-size", 59).text(titleMain);
svg.append("text").attr("x", 1700).attr("y", 52).attr("font-size", 59).text(titlePeriod);
</script>
</body></html>
